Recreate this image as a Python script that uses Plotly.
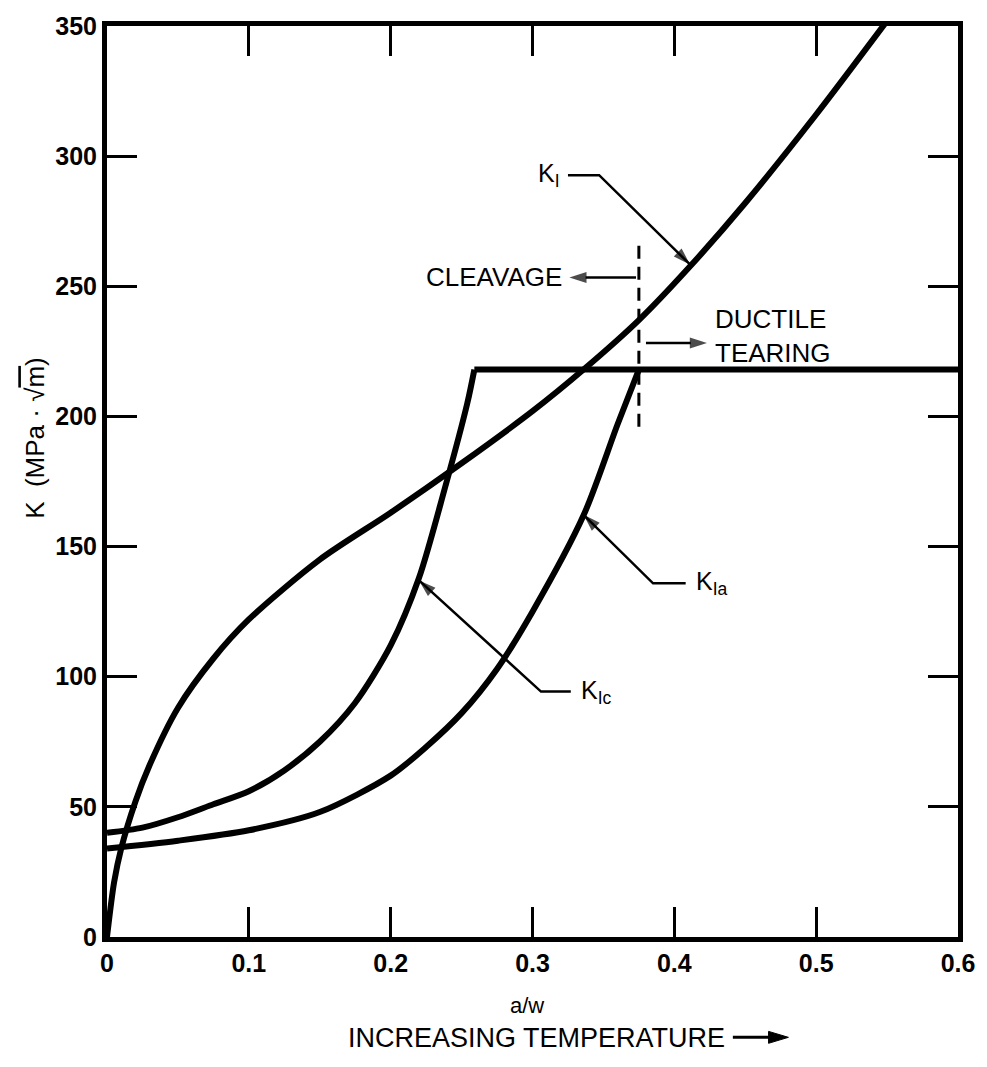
import plotly.graph_objects as go

# ---- data ----
ki_x = [0, 0.005, 0.01, 0.02, 0.03, 0.05, 0.075, 0.1, 0.15, 0.2, 0.25, 0.3, 0.336, 0.375, 0.41, 0.45, 0.5, 0.55]
ki_y = [0, 21, 34, 52, 66, 88, 107, 122, 145, 163, 182, 202, 218, 237, 257, 282, 316, 352]

kic_x = [0, 0.025, 0.05, 0.075, 0.1, 0.125, 0.15, 0.175, 0.2, 0.22, 0.238, 0.254, 0.259]
kic_y = [40, 42, 46, 51, 56, 64, 75, 90, 112, 138, 172, 205, 218]

kia_x = [0, 0.05, 0.1, 0.15, 0.2, 0.225, 0.25, 0.275, 0.3, 0.336, 0.36, 0.375]
kia_y = [34, 37, 41, 48, 62, 73, 86, 103, 125, 162, 197, 218]

plateau_x = [0.259, 0.6]
plateau_y = [218, 218]

divider_x = [0.375, 0.375]
divider_y = [196, 266]

x_ticks = [0, 0.1, 0.2, 0.3, 0.4, 0.5, 0.6]
x_ticklabels = ["0", "0.1", "0.2", "0.3", "0.4", "0.5", "0.6"]
y_ticks = [0, 50, 100, 150, 200, 250, 300, 350]
y_ticklabels = ["0", "50", "100", "150", "200", "250", "300", "350"]

# label leaders (polyline ending with an arrow head), in data units
ki_leader_x, ki_leader_y = [0.325, 0.347, 0.411], [292.7, 292.7, 258.4]
kia_leader_x, kia_leader_y = [0.408, 0.385, 0.336], [135.9, 135.9, 162.2]
kic_leader_x, kic_leader_y = [0.327, 0.306, 0.220], [94.3, 94.3, 137.0]
cleavage_arrow_x, cleavage_arrow_y = [0.373, 0.326], [253.4, 253.4]
ductile_arrow_x, ductile_arrow_y = [0.380, 0.423], [228.2, 228.2]

FONT = "Liberation Sans, Arial, sans-serif"
W = 6

# plot-area geometry (pixels) used to place the bottom captions in paper units
L, R, T, B = 107, 22, 20, 130
PW, PH = 987 - L - R, 1067 - T - B
def px(x):
    return (x - L) / PW
def py(y):
    return (1067 - B - y) / PH

fig = go.Figure()
for xs, ys in [(ki_x, ki_y), (kic_x, kic_y), (kia_x, kia_y)]:
    fig.add_trace(go.Scatter(x=xs, y=ys, mode="lines", showlegend=False, hoverinfo="skip",
                             line=dict(color="black", width=W, shape="spline", smoothing=0.8)))
fig.add_trace(go.Scatter(x=plateau_x, y=plateau_y, mode="lines", showlegend=False, hoverinfo="skip",
                         line=dict(color="black", width=W)))
fig.add_trace(go.Scatter(x=divider_x, y=divider_y, mode="lines", showlegend=False, hoverinfo="skip",
                         line=dict(color="black", width=3, dash="13px,8px")))

def arrow_line(xs, ys, head=18):
    n = len(xs)
    fig.add_trace(go.Scatter(
        x=xs, y=ys, mode="lines+markers", showlegend=False, hoverinfo="skip", cliponaxis=False,
        line=dict(color="black", width=2.5),
        marker=dict(symbol="arrow", angleref="previous", size=[0] * (n - 1) + [head], color="black",
                    line=dict(width=0))))

arrow_line(ki_leader_x, ki_leader_y)
arrow_line(kia_leader_x, kia_leader_y)
arrow_line(kic_leader_x, kic_leader_y)
arrow_line(cleavage_arrow_x, cleavage_arrow_y)
arrow_line(ductile_arrow_x, ductile_arrow_y)

def label(x, y, text, xanchor, size=25, xref="x", yref="y", **kw):
    fig.add_annotation(x=x, y=y, xref=xref, yref=yref, xanchor=xanchor, yanchor="middle", showarrow=False,
                       text=text, font=dict(family=FONT, size=size, color="black"), **kw)

label(0.321, 292.7, "K<sub>I</sub>", "right")
label(0.414, 135.9, "K<sub>Ia</sub>", "left")
label(0.333, 94.3, "K<sub>Ic</sub>", "left")
label(0.322, 253.4, "CLEAVAGE", "right", size=26)
label(0.427, 231, "DUCTILE<br>TEARING", "left", size=26, align="left")

# axis titles
label(px(35), py(435), "K  (MPa · √<span style='text-decoration:overline'>m</span>)",
      "center", size=26, xref="paper", yref="paper", textangle=-90)
label(px(530), py(1006), "a/w", "center", size=22, xref="paper", yref="paper")
label(px(540), py(1039), "INCREASING TEMPERATURE", "center", size=27, xref="paper", yref="paper")

# arrow after "INCREASING TEMPERATURE"
arr_y = py(1038)
fig.add_shape(type="line", xref="paper", yref="paper", x0=px(738), x1=px(778), y0=arr_y, y1=arr_y,
              line=dict(color="black", width=3))
fig.add_shape(type="path", xref="paper", yref="paper",
              path=f"M {px(794)},{arr_y} L {px(774)},{arr_y + 6 / PH} L {px(774)},{arr_y - 6 / PH} Z",
              fillcolor="black", line=dict(color="black", width=1))

axis_common = dict(showline=True, linewidth=5, linecolor="black", mirror="ticks", ticks="inside",
                   ticklen=30, tickwidth=3, tickcolor="black", showgrid=False, zeroline=False,
                   tickfont=dict(family=FONT, size=25, color="black", weight="bold"))
fig.update_xaxes(range=[0, 0.6], tickvals=x_ticks, ticktext=x_ticklabels, **axis_common)
fig.update_yaxes(range=[0, 350], tickvals=y_ticks, ticktext=y_ticklabels, **axis_common)

fig.update_layout(width=987, height=1067, margin=dict(l=L, r=R, t=T, b=B),
                  plot_bgcolor="white", paper_bgcolor="white")

fig.write_html("out.html")
